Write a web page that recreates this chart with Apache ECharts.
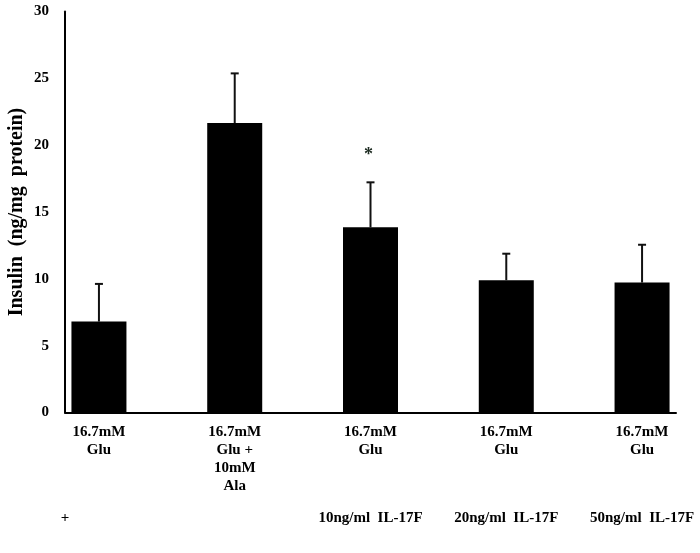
<!DOCTYPE html>
<html>
<head>
<meta charset="utf-8">
<script src="https://cdn.jsdelivr.net/npm/echarts@6/dist/echarts.min.js"></script>
<style>html,body{margin:0;padding:0;background:#fff;}#c{width:700px;height:553px;}</style>
</head>
<body>
<div id="c"></div>
<script>
// Data
const categories = ['16.7mM\nGlu', '16.7mM\nGlu +\n10mM\nAla', '16.7mM\nGlu', '16.7mM\nGlu', '16.7mM\nGlu'];
const insulinMean = [6.8, 21.65, 13.85, 9.9, 9.72];
const insulinUpper = [9.62, 25.37, 17.22, 11.88, 12.55];
const significance = ['', '', '*', '', ''];
const treatmentRow = ['+', '', '10ng/ml  IL-17F', '20ng/ml  IL-17F', '50ng/ml  IL-17F'];
const yTicks = [0, 5, 10, 15, 20, 25, 30];
const yTitle = 'Insulin  (ng/mg  protein)';

const FONT = 'Liberation Serif';
const positions = categories.map((_, i) => i);
const barData = insulinMean.map((v, i) => [i, v]);
const errData = insulinMean.map((v, i) => [i, v, insulinUpper[i]]);
const treatValues = [-0.25, 2, 3, 4];
const treatText = v => v < 0 ? treatmentRow[0] : treatmentRow[Math.round(v)];

const chart = echarts.init(document.getElementById('c'), null, {renderer: 'canvas'});
chart.setOption({
  animation: false,
  backgroundColor: '#fff',
  grid: {left: 65, right: 24, top: 11.5, bottom: 140.5, containLabel: false, outerBoundsMode: 'none'},
  xAxis: [{
    type: 'value', min: -0.25, max: 4.25,
    axisLine: {show: true, onZero: false, lineStyle: {color: '#000', width: 2}},
    axisTick: {show: false},
    splitLine: {show: false},
    axisLabel: {
      customValues: positions,
      formatter: v => categories[Math.round(v)],
      fontFamily: FONT, fontWeight: 'bold', fontSize: 15, color: '#000',
      lineHeight: 18, margin: 11, align: 'center'
    }
  }, {
    type: 'value', min: -0.25, max: 4.25, position: 'bottom', offset: 98,
    axisLine: {show: false}, axisTick: {show: false}, splitLine: {show: false},
    axisLabel: {
      customValues: treatValues,
      formatter: v => treatText(v),
      fontFamily: FONT, fontWeight: 'bold', fontSize: 15, color: '#000', margin: 0
    }
  }],
  yAxis: {
    type: 'value', min: 0, max: 30, interval: 5,
    name: yTitle, nameLocation: 'middle', nameGap: 38, nameMoveOverlap: false,
    nameTextStyle: {fontFamily: FONT, fontWeight: 'bold', fontSize: 20, color: '#000'},
    axisLine: {show: true, onZero: false, lineStyle: {color: '#000', width: 2}},
    axisTick: {show: false},
    splitLine: {show: false},
    axisLabel: {
      customValues: yTicks,
      fontFamily: FONT, fontWeight: 'bold', fontSize: 15, color: '#000', margin: 16
    }
  },
  series: [{
    type: 'bar', xAxisIndex: 0, data: barData, barWidth: 55,
    itemStyle: {color: '#000'}
  }, {
    type: 'custom', xAxisIndex: 0, data: errData,
    encode: {x: 0, y: [1, 2]},
    renderItem: function (params, api) {
      const i = params.dataIndex;
      const x = api.value(0);
      const p0 = api.coord([x, api.value(1)]);
      const p1 = api.coord([x, api.value(2)]);
      const children = [
        {type: 'line', shape: {x1: p0[0], y1: p0[1], x2: p1[0], y2: p1[1]}, style: {stroke: '#111', lineWidth: 2}},
        {type: 'line', shape: {x1: p1[0] - 4, y1: p1[1], x2: p1[0] + 4, y2: p1[1]}, style: {stroke: '#111', lineWidth: 2}}
      ];
      if (significance[i]) {
        children.push({type: 'text', x: p1[0] - 2, y: p1[1] - 27,
          style: {text: significance[i], fill: '#1c2a20', font: 'bold 18px ' + FONT, align: 'center', verticalAlign: 'middle'}});
      }
      return {type: 'group', children: children};
    },
    z: 5
  }]
});
</script>
</body>
</html>
